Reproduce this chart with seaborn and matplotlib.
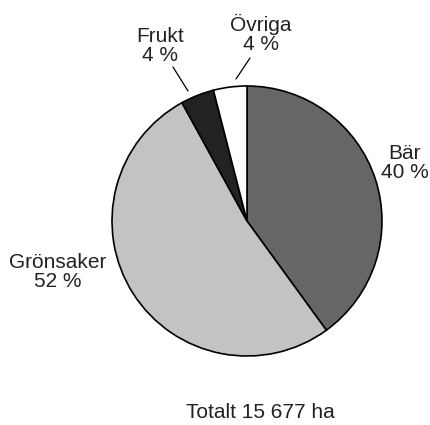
import matplotlib
matplotlib.use("Agg")
import matplotlib.pyplot as plt
import seaborn as sns

# Data
categories = ["Bär", "Grönsaker", "Frukt", "Övriga"]
shares = [40, 52, 4, 4]
labels = ["Bär\n40 %", "Grönsaker\n52 %", "Frukt\n4 %", "Övriga\n4 %"]
total_text = "Totalt 15 677 ha"

sns.set_style("white")
plt.rcParams['font.family'] = ['Liberation Sans', 'DejaVu Sans']

colors = ["#666666", "#c3c3c3", "#222222", "#ffffff"]

fig = plt.figure(figsize=(4.3, 4.25), dpi=100)
ax = fig.add_axes([0, 0, 1, 1])

# pixel-like coordinate system, y measured from bottom
H = 425
ax.pie(shares, colors=colors, startangle=90, counterclock=False,
       center=(247, H - 221), radius=135,
       wedgeprops=dict(edgecolor="black", linewidth=1.2))
ax.set_xlim(0, 430)
ax.set_ylim(0, H)
ax.set_aspect("equal")
ax.axis("off")

label_pos = [(405, 163), (58, 272), (160, 46), (261, 34)]
for lab, (x, y) in zip(labels, label_pos):
    ax.text(x, H - y, lab, ha="center", va="center", fontsize=15,
            linespacing=1.05, color="#222222")

# leader lines for the small slices
ax.plot([173, 188], [H - 67, H - 91], color="black", lw=0.9)
ax.plot([250, 236], [H - 58, H - 79], color="black", lw=0.9)

ax.text(260, H - 413, total_text, ha="center", va="center", fontsize=15,
        color="#222222")

fig.savefig("out.png", dpi=100)
